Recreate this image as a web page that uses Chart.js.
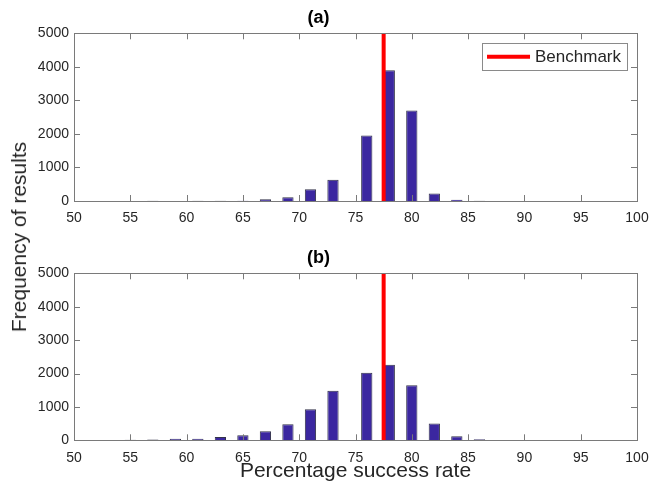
<!DOCTYPE html>
<html>
<head>
<meta charset="utf-8">
<script src="https://cdn.jsdelivr.net/npm/chart.js@4/dist/chart.umd.min.js"></script>
<style>
body{margin:0;background:#fff;width:651px;height:488px;position:relative;overflow:hidden;font-family:"Liberation Sans",Arial,sans-serif}
.panel{position:absolute;left:0;width:651px}
canvas{display:block}
#ylab{position:absolute;left:19px;top:237px;transform:translate(-50%,-50%) rotate(-90deg);white-space:nowrap;font-size:21px;color:#262626}
</style>
</head>
<body>
<div class="panel" style="top:0;height:240px"><canvas id="chartA" width="651" height="240"></canvas></div>
<div class="panel" style="top:240px;height:248px"><canvas id="chartB" width="651" height="248"></canvas></div>
<div id="ylab">Frequency of results</div>
<script>
// histogram bins (percentage success rate) and counts
const binCenters = [51,53,55,57,59,61,63,65,67,69,71,73,76,78,80,82,84,86];
const countsA = [2,2,3,5,3,5,5,10,50,110,350,630,1950,3900,2700,220,40,5];
const countsB = [10,10,20,25,50,50,100,150,270,480,930,1480,2020,2260,1650,500,120,30];
const benchmark = 77.5;
const xRange = [50,100];
const yRange = [0,5000];

const FONT = '"Liberation Sans", Arial, sans-serif';
const AXIS_COLOR = '#7a7a7a';
const TEXT_COLOR = '#262626';
const BAR_COLOR = '#3b27a0';

// MATLAB-like box with inward ticks on all 4 sides
const boxTicks = {
  id:'boxTicks',
  afterDatasetsDraw(chart){
    const {ctx, chartArea:a, scales} = chart;
    const len = 6;
    ctx.save();
    ctx.strokeStyle = AXIS_COLOR;
    ctx.lineWidth = 1;
    ctx.beginPath();
    scales.x.ticks.forEach(t=>{
      const px = Math.round(scales.x.getPixelForValue(t.value))+0.5;
      ctx.moveTo(px,a.bottom); ctx.lineTo(px,a.bottom-len);
      ctx.moveTo(px,a.top); ctx.lineTo(px,a.top+len);
    });
    scales.y.ticks.forEach(t=>{
      const py = Math.round(scales.y.getPixelForValue(t.value))+0.5;
      ctx.moveTo(a.left,py); ctx.lineTo(a.left+len,py);
      ctx.moveTo(a.right,py); ctx.lineTo(a.right-len,py);
    });
    ctx.stroke();
    ctx.strokeRect(Math.round(a.left)+0.5, Math.round(a.top)+0.5, Math.round(a.right-a.left), Math.round(a.bottom-a.top));
    ctx.restore();
  }
};

// legend box drawn inside the top-right of the axes
const boxLegend = {
  id:'boxLegend',
  afterDraw(chart, args, opts){
    if(!opts.show) return;
    const {ctx, chartArea:a} = chart;
    const ds = chart.data.datasets.find(d=>d.type==='line');
    ctx.save();
    ctx.font = '17px ' + FONT;
    const tw = ctx.measureText(ds.label).width;
    const w = 5 + 43 + 5 + tw + 6, h = 27;
    const x = a.right - 10 - w, y = a.top + 10;
    ctx.fillStyle = '#fff';
    ctx.fillRect(x,y,w,h);
    ctx.strokeStyle = '#8a8a8a';
    ctx.lineWidth = 1;
    ctx.strokeRect(Math.round(x)+0.5, Math.round(y)+0.5, Math.round(w), h);
    ctx.strokeStyle = ds.borderColor;
    ctx.lineWidth = ds.borderWidth;
    ctx.beginPath();
    ctx.moveTo(x+5, y+h/2); ctx.lineTo(x+48, y+h/2);
    ctx.stroke();
    ctx.fillStyle = TEXT_COLOR;
    ctx.textBaseline = 'middle';
    ctx.fillText(ds.label, x+53, y+h/2+1);
    ctx.restore();
  }
};

const makeChart = (id, title, counts, xTitle, xAxisH, withLegend) => {
  const ctx = document.getElementById(id).getContext('2d');
  return new Chart(ctx, {
    type:'bar',
    data:{
      datasets:[
        {
          type:'line',
          label:'Benchmark',
          data:[{x:benchmark,y:yRange[0]},{x:benchmark,y:yRange[1]}],
          borderColor:'#ff0000',
          borderWidth:4,
          pointRadius:0,
          order:0
        },
        {
          type:'bar',
          label:'Results',
          data:binCenters.map((c,i)=>({x:c,y:counts[i]})),
          backgroundColor:BAR_COLOR,
          borderColor:'#33334a',
          borderWidth:1,
          barPercentage:0.5,
          categoryPercentage:1.0,
          order:1
        }
      ]
    },
    options:{
      responsive:false,
      animation:false,
      layout:{padding:{left:0,right:14,top:0,bottom:0}},
      plugins:{
        legend:{display:false},
        tooltip:{enabled:false},
        title:{
          display:true,
          text:title,
          color:'#000',
          font:{family:FONT,size:18,weight:'bold',lineHeight:1.2},
          padding:{top:7.7,bottom:4}
        },
        boxLegend:{show:withLegend}
      },
      scales:{
        x:{
          type:'linear',
          offset:false,
          min:xRange[0], max:xRange[1],
          grid:{display:false,drawTicks:false,offset:false},
          border:{display:false},
          ticks:{stepSize:5,color:TEXT_COLOR,font:{family:FONT,size:14},padding:9,maxRotation:0,callback:v=>String(v)},
          title:{display:!!xTitle,text:xTitle,color:TEXT_COLOR,font:{family:FONT,size:21},padding:{top:0,bottom:4.5}},
          afterFit:s=>{s.height=xAxisH;s.paddingLeft=0;s.paddingRight=0;}
        },
        y:{
          min:yRange[0], max:yRange[1],
          grid:{display:false,drawTicks:false},
          border:{display:false},
          ticks:{stepSize:1000,color:TEXT_COLOR,font:{family:FONT,size:14},padding:5,callback:v=>String(v)},
          afterFit:s=>{s.width=74;s.paddingTop=0;s.paddingBottom=0;}
        }
      }
    },
    plugins:[boxTicks, boxLegend]
  });
};

makeChart('chartA','(a)',countsA,'',39,true);
makeChart('chartB','(b)',countsB,'Percentage success rate',47.7,false);
</script>
</body>
</html>
